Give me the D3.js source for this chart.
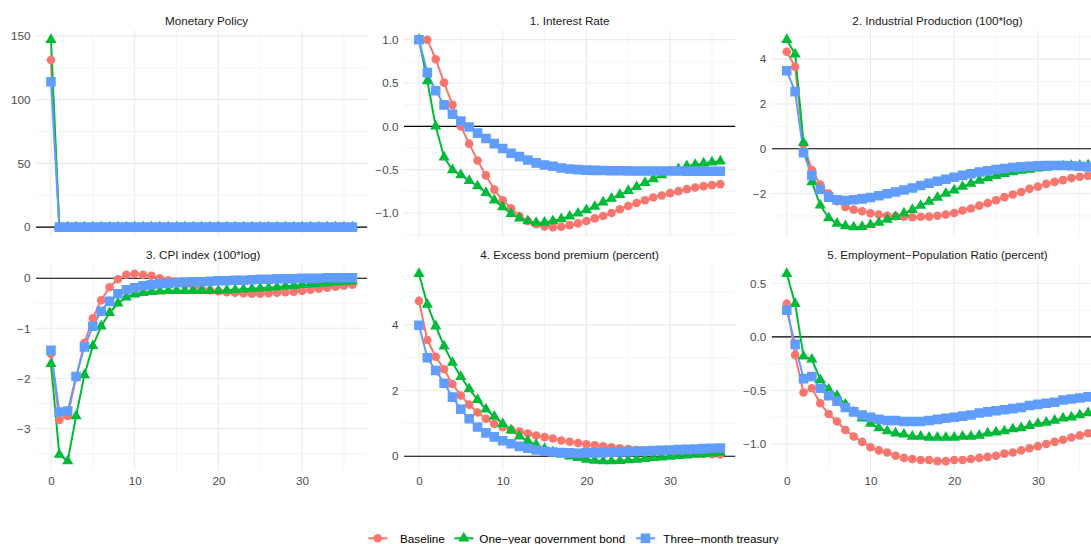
<!DOCTYPE html>
<html>
<head>
<meta charset="utf-8">
<script src="https://cdn.jsdelivr.net/npm/d3@7"></script>
<style>
  html, body { margin: 0; padding: 0; background: #ffffff; }
  svg text { font-family: "Liberation Sans", Arial, Helvetica, sans-serif; }
</style>
</head>
<body>
<svg id="chart" width="1091" height="544"></svg>
<script>
// ---------------- DATA ----------------
const horizon = [0,1,2,3,4,5,6,7,8,9,10,11,12,13,14,15,16,17,18,19,20,21,22,23,24,25,26,27,28,29,30,31,32,33,34,35,36];
const seriesNames = ["Baseline", "One\u2212year government bond", "Three\u2212month treasury"];
const seriesColors = ["#F8766D", "#00BA38", "#619CFF"];
const panelTitles = [
  "Monetary Policy",
  "1. Interest Rate",
  "2. Industrial Production (100*log)",
  "3. CPI index (100*log)",
  "4. Excess bond premium (percent)",
  "5. Employment\u2212Population Ratio (percent)"
];
const xTicks = [0, 10, 20, 30];

// Monetary Policy
const mpBaseline   = [131,0,0,0,0,0,0,0,0,0,0,0,0,0,0,0,0,0,0,0,0,0,0,0,0,0,0,0,0,0,0,0,0,0,0,0,0];
const mpOneYear    = [147,0,0,0,0,0,0,0,0,0,0,0,0,0,0,0,0,0,0,0,0,0,0,0,0,0,0,0,0,0,0,0,0,0,0,0,0];
const mpThreeMonth = [114,0,0,0,0,0,0,0,0,0,0,0,0,0,0,0,0,0,0,0,0,0,0,0,0,0,0,0,0,0,0,0,0,0,0,0,0];
const mpTicks = [0, 50, 100, 150];

// 1. Interest Rate
const irBaseline   = [1.0,1.0,0.775,0.504,0.248,0.0,-0.20,-0.395,-0.566,-0.73,-0.853,-0.946,-1.035,-1.093,-1.13,-1.155,-1.163,-1.159,-1.14,-1.12,-1.093,-1.062,-1.035,-1.0,-0.957,-0.919,-0.884,-0.853,-0.822,-0.798,-0.771,-0.748,-0.725,-0.705,-0.69,-0.678,-0.667];
const irOneYear    = [1.0,0.523,0.0,-0.357,-0.504,-0.562,-0.628,-0.69,-0.767,-0.853,-0.93,-1.008,-1.062,-1.093,-1.112,-1.109,-1.093,-1.07,-1.039,-1.004,-0.965,-0.926,-0.876,-0.833,-0.79,-0.744,-0.698,-0.651,-0.608,-0.562,-0.523,-0.492,-0.457,-0.442,-0.426,-0.415,-0.403];
const irThreeMonth = [1.0,0.62,0.41,0.248,0.14,0.062,-0.008,-0.078,-0.14,-0.2,-0.256,-0.31,-0.349,-0.388,-0.422,-0.446,-0.461,-0.48,-0.492,-0.5,-0.505,-0.508,-0.51,-0.512,-0.513,-0.514,-0.515,-0.515,-0.515,-0.516,-0.516,-0.516,-0.517,-0.517,-0.517,-0.518,-0.518];
const irTicks = [-1, -0.5, 0, 0.5, 1];

// 2. Industrial Production
const ipBaseline   = [4.33,3.66,0.2,-0.95,-1.6,-2.0,-2.34,-2.6,-2.72,-2.79,-2.88,-2.94,-2.99,-3.01,-3.04,-3.06,-3.04,-3.03,-2.99,-2.94,-2.87,-2.76,-2.67,-2.54,-2.43,-2.3,-2.16,-2.04,-1.93,-1.79,-1.69,-1.57,-1.48,-1.4,-1.31,-1.25,-1.21];
const ipOneYear    = [4.87,4.22,0.27,-1.49,-2.52,-3.09,-3.34,-3.45,-3.5,-3.48,-3.4,-3.3,-3.16,-3.04,-2.88,-2.72,-2.54,-2.36,-2.18,-2.0,-1.85,-1.69,-1.55,-1.42,-1.31,-1.21,-1.12,-1.04,-0.97,-0.93,-0.87,-0.84,-0.81,-0.78,-0.76,-0.75,-0.73];
const ipThreeMonth = [3.48,2.55,-0.18,-1.19,-1.82,-2.16,-2.28,-2.31,-2.28,-2.24,-2.18,-2.1,-2.01,-1.93,-1.84,-1.75,-1.64,-1.54,-1.45,-1.36,-1.27,-1.19,-1.12,-1.04,-0.99,-0.93,-0.88,-0.84,-0.81,-0.78,-0.76,-0.75,-0.75,-0.75,-0.76,-0.78,-0.81];
const ipTicks = [-2, 0, 2, 4];

// 3. CPI index
const cpiBaseline   = [-1.51,-2.83,-2.75,-1.98,-1.29,-0.80,-0.44,-0.18,-0.02,0.07,0.09,0.07,0.05,0.0,-0.04,-0.09,-0.13,-0.17,-0.21,-0.24,-0.26,-0.28,-0.29,-0.30,-0.31,-0.31,-0.30,-0.29,-0.28,-0.27,-0.25,-0.23,-0.21,-0.19,-0.17,-0.15,-0.13];
const cpiOneYear    = [-1.71,-3.52,-3.65,-2.75,-1.93,-1.35,-0.96,-0.69,-0.50,-0.38,-0.32,-0.29,-0.27,-0.26,-0.25,-0.25,-0.25,-0.25,-0.25,-0.25,-0.25,-0.24,-0.23,-0.22,-0.21,-0.20,-0.19,-0.18,-0.16,-0.15,-0.13,-0.12,-0.11,-0.10,-0.08,-0.07,-0.06];
const cpiThreeMonth = [-1.44,-2.67,-2.65,-1.96,-1.37,-0.96,-0.66,-0.46,-0.31,-0.23,-0.19,-0.15,-0.13,-0.11,-0.10,-0.09,-0.08,-0.07,-0.07,-0.06,-0.05,-0.05,-0.04,-0.04,-0.03,-0.02,-0.02,-0.01,-0.01,-0.01,0.0,0.0,0.0,0.01,0.01,0.01,0.01];
const cpiTicks = [-3, -2, -1, 0];

// 4. Excess bond premium
const ebpBaseline   = [4.73,3.54,3.03,2.65,2.2,1.85,1.57,1.33,1.14,0.98,0.88,0.81,0.75,0.69,0.63,0.58,0.54,0.48,0.44,0.40,0.36,0.33,0.30,0.27,0.24,0.22,0.19,0.17,0.15,0.13,0.12,0.10,0.09,0.08,0.07,0.06,0.05];
const ebpOneYear    = [5.56,4.62,3.96,3.35,2.85,2.42,2.05,1.72,1.43,1.21,0.99,0.79,0.61,0.46,0.35,0.23,0.13,0.05,0.0,-0.05,-0.1,-0.13,-0.15,-0.15,-0.14,-0.12,-0.10,-0.08,-0.05,-0.03,-0.01,0.01,0.03,0.05,0.07,0.09,0.11];
const ebpThreeMonth = [3.99,3.0,2.61,2.22,1.8,1.43,1.14,0.89,0.71,0.59,0.47,0.38,0.30,0.24,0.19,0.15,0.13,0.11,0.10,0.09,0.10,0.10,0.11,0.12,0.13,0.14,0.15,0.16,0.17,0.18,0.19,0.20,0.21,0.22,0.23,0.24,0.25];
const ebpTicks = [0, 2, 4];

// 5. Employment-Population Ratio
const eprBaseline   = [0.31,-0.17,-0.52,-0.48,-0.62,-0.72,-0.79,-0.87,-0.93,-0.98,-1.03,-1.06,-1.08,-1.11,-1.13,-1.14,-1.15,-1.15,-1.16,-1.16,-1.15,-1.15,-1.14,-1.13,-1.12,-1.11,-1.09,-1.08,-1.06,-1.04,-1.02,-1.0,-0.98,-0.96,-0.94,-0.92,-0.90];
const eprOneYear    = [0.59,0.31,-0.18,-0.21,-0.40,-0.49,-0.55,-0.63,-0.70,-0.76,-0.81,-0.85,-0.88,-0.90,-0.91,-0.93,-0.93,-0.94,-0.94,-0.94,-0.94,-0.93,-0.93,-0.92,-0.90,-0.89,-0.88,-0.86,-0.85,-0.83,-0.81,-0.80,-0.78,-0.76,-0.75,-0.73,-0.71];
const eprThreeMonth = [0.25,-0.07,-0.39,-0.37,-0.48,-0.55,-0.60,-0.66,-0.70,-0.73,-0.75,-0.77,-0.78,-0.78,-0.79,-0.79,-0.79,-0.78,-0.77,-0.76,-0.75,-0.74,-0.73,-0.71,-0.70,-0.69,-0.68,-0.67,-0.66,-0.64,-0.63,-0.62,-0.61,-0.59,-0.58,-0.57,-0.56];
const eprTicks = [-1, -0.5, 0, 0.5];

// ---------------- LAYOUT ----------------
const svg = d3.select("#chart");
const PW = 331.5, PH = 206.2;
const colLeft = [35.9, 403.9, 771.7];
const rowTop = [30.3, 264.3];
const titleShift = [5, 0, 0, 1.5, 0, 0];
const FONT = 11.7;
const GRID = "#EBEBEB";

const panels = [
  { title: panelTitles[0], series: [mpBaseline, mpOneYear, mpThreeMonth], ticks: mpTicks, fmt: d3.format("d") },
  { title: panelTitles[1], series: [irBaseline, irOneYear, irThreeMonth], ticks: irTicks, fmt: d3.format(".1f") },
  { title: panelTitles[2], series: [ipBaseline, ipOneYear, ipThreeMonth], ticks: ipTicks, fmt: d3.format("d") },
  { title: panelTitles[3], series: [cpiBaseline, cpiOneYear, cpiThreeMonth], ticks: cpiTicks, fmt: d3.format("d") },
  { title: panelTitles[4], series: [ebpBaseline, ebpOneYear, ebpThreeMonth], ticks: ebpTicks, fmt: d3.format("d") },
  { title: panelTitles[5], series: [eprBaseline, eprOneYear, eprThreeMonth], ticks: eprTicks, fmt: d3.format(".1f") }
];

function expand(ext) {
  const pad = (ext[1] - ext[0]) * 0.05;
  return [ext[0] - pad, ext[1] + pad];
}
function minorBreaks(major, domain) {
  const step = major[1] - major[0];
  const ext = [major[0] - step, ...major, major[major.length - 1] + step];
  const out = [];
  for (let i = 0; i < ext.length - 1; i++) {
    const m = (ext[i] + ext[i + 1]) / 2;
    if (m >= domain[0] && m <= domain[1]) out.push(m);
  }
  return out;
}

const x = d3.scaleLinear().domain(expand(d3.extent(horizon))).range([0, PW]);
const xMinor = minorBreaks(xTicks, x.domain());

const symbols = [d3.symbolCircle, d3.symbolTriangle, d3.symbolSquare];
const symbolSizes = [58, 54, 92];
const symbolGen = i => d3.symbol().type(symbols[i]).size(symbolSizes[i])();

const defs = svg.append("defs");

panels.forEach((p, i) => {
  const col = i % 3, row = Math.floor(i / 3);
  const g = svg.append("g").attr("transform", `translate(${colLeft[col]},${rowTop[row]})`);
  const clipId = "clip" + i;
  defs.append("clipPath").attr("id", clipId)
    .append("rect").attr("x", 0).attr("y", 0).attr("width", PW).attr("height", PH);

  const all = p.series.flat();
  const y = d3.scaleLinear().domain(expand(d3.extent(all))).range([PH, 0]);
  const yMinor = minorBreaks(p.ticks, y.domain());

  const grid = g.append("g");
  grid.selectAll("line.ymin").data(yMinor).join("line")
    .attr("x1", 0).attr("x2", PW).attr("y1", d => y(d)).attr("y2", d => y(d))
    .attr("stroke", GRID).attr("stroke-width", 0.55);
  grid.selectAll("line.xmin").data(xMinor).join("line")
    .attr("y1", 0).attr("y2", PH).attr("x1", d => x(d)).attr("x2", d => x(d))
    .attr("stroke", GRID).attr("stroke-width", 0.55);
  grid.selectAll("line.ymaj").data(p.ticks).join("line")
    .attr("x1", 0).attr("x2", PW).attr("y1", d => y(d)).attr("y2", d => y(d))
    .attr("stroke", GRID).attr("stroke-width", 1.1);
  grid.selectAll("line.xmaj").data(xTicks).join("line")
    .attr("y1", 0).attr("y2", PH).attr("x1", d => x(d)).attr("x2", d => x(d))
    .attr("stroke", GRID).attr("stroke-width", 1.1);

  const plot = g.append("g").attr("clip-path", `url(#${clipId})`);
  plot.append("line").attr("x1", 0).attr("x2", PW).attr("y1", y(0)).attr("y2", y(0))
    .attr("stroke", "#000").attr("stroke-width", 1.1);

  const line = d3.line().x((d, k) => x(horizon[k])).y(d => y(d));
  p.series.forEach((s, si) => {
    plot.append("path").datum(s).attr("d", line)
      .attr("fill", "none").attr("stroke", seriesColors[si]).attr("stroke-width", 2)
      .attr("stroke-linejoin", "round");
  });
  p.series.forEach((s, si) => {
    plot.append("g").selectAll("path").data(s).join("path")
      .attr("d", symbolGen(si))
      .attr("transform", (d, k) => `translate(${x(horizon[k])},${y(d)})`)
      .attr("fill", seriesColors[si]);
  });

  const ya = g.append("g").call(d3.axisLeft(y).tickValues(p.ticks).tickSize(0).tickPadding(5.5).tickFormat(p.fmt));
  ya.select(".domain").remove();
  ya.selectAll("text").attr("fill", "#4D4D4D").style("font-size", FONT + "px")
    .style("font-family", '"Liberation Sans", Arial, sans-serif');

  if (row === 1) {
    const xa = g.append("g").attr("transform", `translate(0,${PH})`)
      .call(d3.axisBottom(x).tickValues(xTicks).tickSize(0).tickPadding(6.4).tickFormat(d3.format("d")));
    xa.select(".domain").remove();
    xa.selectAll("text").attr("fill", "#4D4D4D").style("font-size", FONT + "px")
      .style("font-family", '"Liberation Sans", Arial, sans-serif');
  }

  g.append("text").attr("x", PW / 2 + titleShift[i]).attr("y", -10.3)
    .attr("text-anchor", "middle").attr("dominant-baseline", "central")
    .attr("fill", "#1A1A1A").style("font-size", FONT + "px").text(p.title);
});

// ---------------- LEGEND ----------------
const legendY = 538.3;
const keyCenters = [377.8, 463.8, 645.5];
const textStarts = [400, 479.3, 663.3];
const legend = svg.append("g");
seriesNames.forEach((name, i) => {
  const k = legend.append("g").attr("transform", `translate(${keyCenters[i]},${legendY})`);
  k.append("line").attr("x1", -9.5).attr("x2", 9.5).attr("y1", 0).attr("y2", 0)
    .attr("stroke", seriesColors[i]).attr("stroke-width", 2);
  k.append("path").attr("d", symbolGen(i)).attr("fill", seriesColors[i]);
  legend.append("text").attr("x", textStarts[i]).attr("y", legendY)
    .attr("dominant-baseline", "central").attr("fill", "#000000")
    .style("font-size", FONT + "px").text(name);
});
</script>
</body>
</html>
